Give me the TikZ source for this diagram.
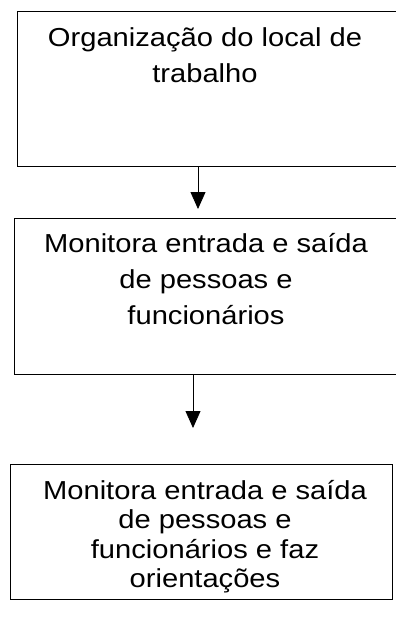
\documentclass[tikz,border=0pt]{standalone}
\usepackage{fontspec}
\setmainfont{Liberation Sans}[FakeStretch=1.12]
\usetikzlibrary{arrows.meta}
\begin{document}
\begin{tikzpicture}[x=1pt,y=1pt,
  boxstyle/.style={draw=black,line width=0.8pt,inner sep=0pt},
  txtA/.style={align=center,inner sep=0pt,anchor=north,font=\fontsize{26}{36}\selectfont},
  txtB/.style={align=center,inner sep=0pt,anchor=north,font=\fontsize{26}{29.5}\selectfont},
  arr/.style={draw=black,line width=0.8pt,-{Triangle[length=17pt,width=15pt]}}]
\useasboundingbox (0,0) rectangle (396,-619);
% boxes
\node[boxstyle,minimum width=400pt,minimum height=155pt,anchor=north west] (b1) at (17,-11) {};
\node[boxstyle,minimum width=403pt,minimum height=156pt,anchor=north west] (b2) at (14,-218) {};
\node[boxstyle,minimum width=382pt,minimum height=135pt,anchor=north west] (b3) at (10,-464) {};
% texts
\node[txtA] (t1) at (205,-21) {\rule{0pt}{25pt}Organização do local de\\trabalho};
\node[txtA] (t2) at (206,-227) {\rule{0pt}{25pt}Monitora entrada e saída\\de pessoas e\\funcionários};
\node[txtB] (t3) at (205,-474) {\rule{0pt}{25pt}Monitora entrada e saída\\de pessoas e\\funcionários e faz\\orientações};
% arrows
\coordinate (a1) at (198,-209);
\coordinate (a2) at (193,-428);
\draw[arr] (b1.south -| a1) -- (a1);
\draw[arr] (b2.south -| a2) -- (a2);
\end{tikzpicture}
\end{document}
